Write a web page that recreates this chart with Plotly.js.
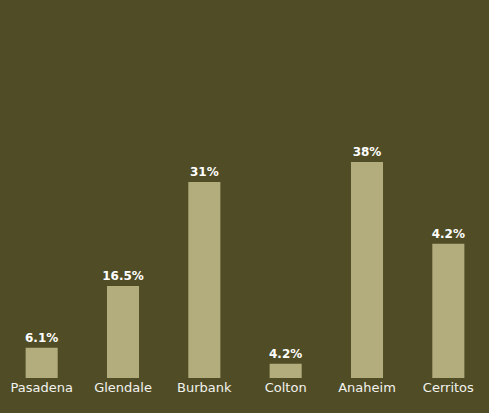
<!DOCTYPE html>
<html>
<head>
<meta charset="utf-8">
<script src="https://cdn.plot.ly/plotly-3.0.1.min.js"></script>
<style>html,body{margin:0;padding:0;background:#504d26;}</style>
</head>
<body>
<div id="chart" style="width:489px;height:413px;"></div>
<script>
const cities = ["Pasadena", "Glendale", "Burbank", "Colton", "Anaheim", "Cerritos"];
const barValues = [5.3, 16.2, 34.5, 2.5, 38, 23.6];
const valueLabels = ["6.1%", "16.5%", "31%", "4.2%", "38%", "4.2%"];

Plotly.newPlot("chart", [{
  type: "bar",
  x: cities,
  y: barValues,
  text: valueLabels,
  textposition: "outside",
  constraintext: "none",
  cliponaxis: false,
  textfont: {family: "'DejaVu Sans', sans-serif", size: 12, color: "#ffffff", weight: 700},
  marker: {color: "#b3ad7e"},
  hoverinfo: "none"
}], {
  width: 489, height: 413,
  margin: {l: 1, r: 0, t: 0, b: 35},
  paper_bgcolor: "#504d26",
  plot_bgcolor: "#504d26",
  bargap: 0.606,
  showlegend: false,
  xaxis: {
    showgrid: false, zeroline: false, showline: false, ticks: "",
    tickfont: {family: "'DejaVu Sans', sans-serif", size: 13, color: "#f2f2ee"},
    ticklabelstandoff: 0
  },
  yaxis: {
    range: [0, 66.5], visible: false, showgrid: false, zeroline: false
  }
}, {staticPlot: true, displayModeBar: false});
</script>
</body>
</html>
